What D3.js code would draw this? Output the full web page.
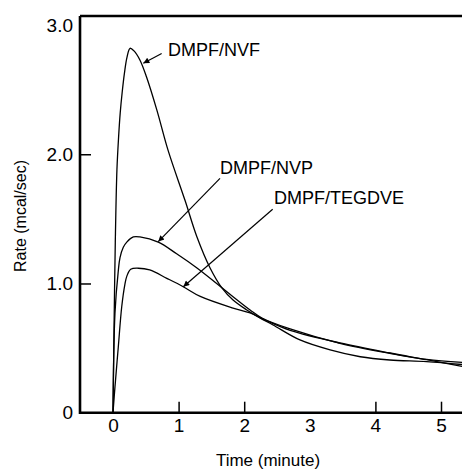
<!DOCTYPE html>
<html>
<head>
<meta charset="utf-8">
<script src="https://cdn.jsdelivr.net/npm/d3@7/dist/d3.min.js"></script>
<style>
  html, body { margin: 0; padding: 0; background: #fff; }
  svg { display: block; }
  text { font-family: "Liberation Sans", Arial, Helvetica, sans-serif; fill: #000; }
</style>
</head>
<body>
<svg id="chart" width="462" height="471"></svg>
<script>
// Heat-flow rate of photopolymerization for three DMPF-based formulations.
const seriesNames = ["DMPF/NVF", "DMPF/NVP", "DMPF/TEGDVE"];

const timeNVF = [0, 0.015, 0.035, 0.06, 0.085, 0.11, 0.14, 0.175, 0.213, 0.26, 0.32, 0.41, 0.51, 0.67, 0.84, 1.10, 1.28, 1.48, 1.66, 1.83, 2.04, 2.24, 2.44, 2.85, 3.31, 3.77, 4.22, 4.78, 5.32];
const rateNVF = [0, 0.62, 1.32, 1.88, 2.13, 2.32, 2.48, 2.63, 2.75, 2.82, 2.80, 2.73, 2.60, 2.34, 2.03, 1.64, 1.36, 1.12, 0.966, 0.872, 0.795, 0.733, 0.679, 0.563, 0.486, 0.433, 0.408, 0.395, 0.373];

const timeNVP = [0, 0.03, 0.081, 0.107, 0.157, 0.21, 0.31, 0.41, 0.69, 0.97, 1.28, 1.58, 1.83, 2.09, 2.27, 2.70, 3.46, 4.22, 4.78, 5.32];
const rateNVP = [0, 0.77, 1.10, 1.20, 1.28, 1.32, 1.36, 1.36, 1.32, 1.23, 1.12, 1.00, 0.898, 0.795, 0.733, 0.648, 0.537, 0.46, 0.413, 0.389];

const timeTEGDVE = [0, 0.03, 0.081, 0.133, 0.18, 0.21, 0.27, 0.386, 0.56, 0.82, 1.07, 1.33, 1.83, 2.09, 2.32, 2.70, 3.46, 4.22, 4.78, 5.32];
const rateTEGDVE = [0, 0.20, 0.51, 0.82, 0.99, 1.055, 1.11, 1.118, 1.105, 1.04, 0.975, 0.90, 0.81, 0.772, 0.717, 0.638, 0.54, 0.462, 0.41, 0.358];

const xTicks = [0, 1, 2, 3, 4, 5];
const yTicks = [0, 1, 2, 3];

// Label anchors and arrow ends, in data units (time, rate).
const labelAt = [[0.838, 2.807], [1.631, 1.894], [2.454, 1.662]];
const arrowFrom = [[0.742, 2.78], [1.631, 1.814], [2.434, 1.574]];
const arrowTo = [[0.462, 2.704], [0.69, 1.324], [1.072, 0.975]];

const svg = d3.select("#chart");
const frame = { left: 80, top: 16, right: 462, bottom: 412.7 };

const x = d3.scaleLinear().domain([-0.503, 5.32]).range([frame.left, frame.right]);
const y = d3.scaleLinear().domain([0, 3.07]).range([frame.bottom, frame.top]);

// Axes with inward ticks
const xAxis = d3.axisBottom(x).tickValues(xTicks).tickFormat(d3.format("d"))
  .tickSizeInner(-11).tickSizeOuter(0).tickPadding(6);
const yAxis = d3.axisLeft(y).tickValues(yTicks)
  .tickFormat(d => d === 0 ? "0" : d3.format(".1f")(d))
  .tickSizeInner(-11).tickSizeOuter(0).tickPadding(7);

const gx = svg.append("g").attr("transform", `translate(0,${frame.bottom})`).call(xAxis);
const gy = svg.append("g").attr("transform", `translate(${frame.left},0)`).call(yAxis);

[gx, gy].forEach(g => {
  g.select(".domain").remove();
  g.selectAll(".tick line").attr("stroke", "#000").attr("stroke-width", 1.5)
    .attr("display", d => (d === 0 || d === 3) ? "none" : null);
  g.selectAll(".tick text").attr("font-size", 19).attr("fill", "#000");
});

// Frame: left axis, bottom axis, top border
svg.append("path")
  .attr("d", `M${frame.left},${frame.top}V${frame.bottom}H${frame.right}`)
  .attr("fill", "none").attr("stroke", "#000").attr("stroke-width", 2.6);
svg.append("path")
  .attr("d", `M${frame.left},${frame.top}H${frame.right}`)
  .attr("fill", "none").attr("stroke", "#000").attr("stroke-width", 2.4);

// Curves
const series = [
  { t: timeNVF, r: rateNVF },
  { t: timeNVP, r: rateNVP },
  { t: timeTEGDVE, r: rateTEGDVE }
];
const line = d3.line().x(d => x(d[0])).y(d => y(d[1])).curve(d3.curveCatmullRom.alpha(0.5));
svg.append("g").selectAll("path").data(series).join("path")
  .attr("d", s => line(s.t.map((t, i) => [t, s.r[i]])))
  .attr("fill", "none").attr("stroke", "#000").attr("stroke-width", 1.3);

// Arrowhead marker
svg.append("defs").append("marker")
  .attr("id", "arrow").attr("viewBox", "0 0 10 10").attr("refX", 10).attr("refY", 5)
  .attr("markerWidth", 9).attr("markerHeight", 6).attr("markerUnits", "userSpaceOnUse")
  .attr("orient", "auto")
  .append("path").attr("d", "M0,0L10,5L0,10Z").attr("fill", "#000");

// Labels with leader arrows
const ann = svg.append("g");
seriesNames.forEach((name, i) => {
  ann.append("line")
    .attr("x1", x(arrowFrom[i][0])).attr("y1", y(arrowFrom[i][1]))
    .attr("x2", x(arrowTo[i][0])).attr("y2", y(arrowTo[i][1]))
    .attr("stroke", "#000").attr("stroke-width", 1.2).attr("marker-end", "url(#arrow)");
  ann.append("text")
    .attr("x", x(labelAt[i][0])).attr("y", y(labelAt[i][1]))
    .attr("dy", "0.35em").attr("font-size", 18).text(name);
});

// Axis titles
svg.append("text")
  .attr("x", 268).attr("y", 466).attr("text-anchor", "middle")
  .attr("font-size", 17).text("Time (minute)");
svg.append("text")
  .attr("transform", "translate(26,216) rotate(-90)").attr("text-anchor", "middle")
  .attr("font-size", 16).text("Rate (mcal/sec)");
</script>
</body>
</html>
